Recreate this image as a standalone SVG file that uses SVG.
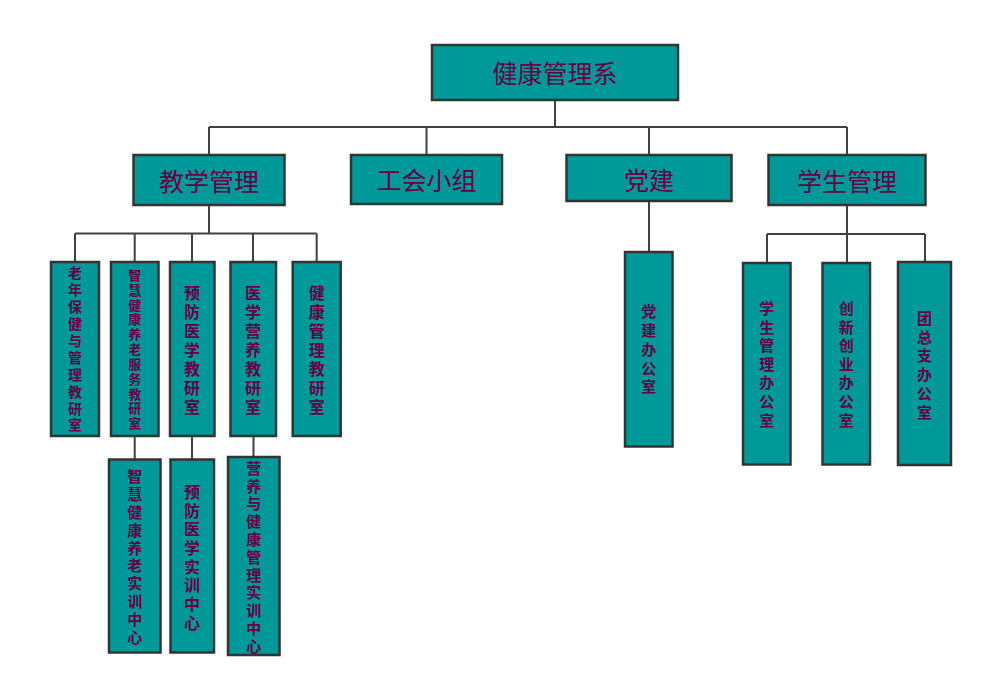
<svg xmlns="http://www.w3.org/2000/svg" width="986" height="685" viewBox="0 0 986 685">
<style>
.box{fill:#009999;stroke:#333333;stroke-width:2.5}
.h{font-family:"Noto Sans CJK SC","Noto Sans",sans-serif;font-size:25px;fill:#660044;text-anchor:middle}
.v{font-family:"Noto Sans CJK SC","Noto Sans",sans-serif;font-weight:bold;fill:#660044;text-anchor:middle}
.c{fill:none;stroke:#404040;stroke-width:2}
</style>
<rect width="986" height="685" fill="#ffffff"/>
<g id="connectors">
<path class="c" d="M555 100V127M209 127H847M209 127V155M426.5 127V155M649 127V155M847 127V155"/>
<path class="c" d="M209 205V233.5M75 233.5H316.7M75 233.5V262M134.7 233.5V262M192 233.5V262M253 233.5V262M316.7 233.5V262"/>
<path class="c" d="M134.7 436V459M192 436V459M253.5 436V457"/>
<path class="c" d="M649 201V252"/>
<path class="c" d="M847 205V234M767 234H925M767 234V263M847 234V263M925 234V262"/>
</g>
<g id="n-root"><rect class="box" x="432" y="45" width="246" height="55"/><text class="h" x="555" y="82.5">健康管理系</text></g>
<g id="n-jxgl"><rect class="box" x="133.5" y="155" width="151" height="50"/><text class="h" x="209" y="190.5">教学管理</text></g>
<g id="n-ghxz"><rect class="box" x="351" y="155" width="151" height="49"/><text class="h" x="426.5" y="189.5">工会小组</text></g>
<g id="n-dj"><rect class="box" x="566.5" y="155" width="165" height="46"/><text class="h" x="649" y="189.5">党建</text></g>
<g id="n-xsgl"><rect class="box" x="768.5" y="155" width="157" height="50"/><text class="h" x="847" y="190.5">学生管理</text></g>

<g id="n-lnbj"><rect class="box" x="51" y="262" width="48" height="174"/>
<text class="v" font-size="14"><tspan x="75" y="278.3">老</tspan><tspan x="75" dy="16.9">年</tspan><tspan x="75" dy="16.9">保</tspan><tspan x="75" dy="16.9">健</tspan><tspan x="75" dy="16.9">与</tspan><tspan x="75" dy="16.9">管</tspan><tspan x="75" dy="16.9">理</tspan><tspan x="75" dy="16.9">教</tspan><tspan x="75" dy="16.9">研</tspan><tspan x="75" dy="16.9">室</tspan></text></g>

<g id="n-zhjk"><rect class="box" x="111" y="262" width="47.5" height="174"/>
<text class="v" font-size="13"><tspan x="134.7" y="280">智</tspan><tspan x="134.7" dy="14.83">慧</tspan><tspan x="134.7" dy="14.83">健</tspan><tspan x="134.7" dy="14.83">康</tspan><tspan x="134.7" dy="14.83">养</tspan><tspan x="134.7" dy="14.83">老</tspan><tspan x="134.7" dy="14.83">服</tspan><tspan x="134.7" dy="14.83">务</tspan><tspan x="134.7" dy="14.83">教</tspan><tspan x="134.7" dy="14.83">研</tspan><tspan x="134.7" dy="14.83">室</tspan></text></g>

<g id="n-yfyx"><rect class="box" x="170" y="262" width="44.5" height="174"/>
<text class="v" font-size="16"><tspan x="192" y="299">预</tspan><tspan x="192" dy="19">防</tspan><tspan x="192" dy="19">医</tspan><tspan x="192" dy="19">学</tspan><tspan x="192" dy="19">教</tspan><tspan x="192" dy="19">研</tspan><tspan x="192" dy="19">室</tspan></text></g>

<g id="n-yxyy"><rect class="box" x="230.5" y="262" width="45.5" height="174"/>
<text class="v" font-size="16"><tspan x="253" y="298.8">医</tspan><tspan x="253" dy="19">学</tspan><tspan x="253" dy="19">营</tspan><tspan x="253" dy="19">养</tspan><tspan x="253" dy="19">教</tspan><tspan x="253" dy="19">研</tspan><tspan x="253" dy="19">室</tspan></text></g>

<g id="n-jkgl"><rect class="box" x="292.7" y="262" width="48" height="174"/>
<text class="v" font-size="16"><tspan x="316.7" y="299.3">健</tspan><tspan x="316.7" dy="19">康</tspan><tspan x="316.7" dy="19">管</tspan><tspan x="316.7" dy="19">理</tspan><tspan x="316.7" dy="19">教</tspan><tspan x="316.7" dy="19">研</tspan><tspan x="316.7" dy="19">室</tspan></text></g>

<g id="n-zhsx"><rect class="box" x="109" y="459.5" width="51.5" height="193"/>
<text class="v" font-size="15"><tspan x="134.7" y="482.4">智</tspan><tspan x="134.7" dy="17.8">慧</tspan><tspan x="134.7" dy="17.8">健</tspan><tspan x="134.7" dy="17.8">康</tspan><tspan x="134.7" dy="17.8">养</tspan><tspan x="134.7" dy="17.8">老</tspan><tspan x="134.7" dy="17.8">实</tspan><tspan x="134.7" dy="17.8">训</tspan><tspan x="134.7" dy="17.8">中</tspan><tspan x="134.7" dy="17.8">心</tspan></text></g>

<g id="n-yfsx"><rect class="box" x="170.5" y="459.5" width="43.5" height="193"/>
<text class="v" font-size="16"><tspan x="192" y="497.8">预</tspan><tspan x="192" dy="18.7">防</tspan><tspan x="192" dy="18.7">医</tspan><tspan x="192" dy="18.7">学</tspan><tspan x="192" dy="18.7">实</tspan><tspan x="192" dy="18.7">训</tspan><tspan x="192" dy="18.7">中</tspan><tspan x="192" dy="18.7">心</tspan></text></g>

<g id="n-yysx"><rect class="box" x="228" y="457" width="51.5" height="198"/>
<text class="v" font-size="15"><tspan x="253.8" y="473.7">营</tspan><tspan x="253.8" dy="17.8">养</tspan><tspan x="253.8" dy="17.8">与</tspan><tspan x="253.8" dy="17.8">健</tspan><tspan x="253.8" dy="17.8">康</tspan><tspan x="253.8" dy="17.8">管</tspan><tspan x="253.8" dy="17.8">理</tspan><tspan x="253.8" dy="17.8">实</tspan><tspan x="253.8" dy="17.8">训</tspan><tspan x="253.8" dy="17.8">中</tspan><tspan x="253.8" dy="17.8">心</tspan></text></g>

<g id="n-djbgs"><rect class="box" x="625" y="252" width="47.5" height="194.5"/>
<text class="v" font-size="15"><tspan x="648.7" y="317.4">党</tspan><tspan x="648.7" dy="18.75">建</tspan><tspan x="648.7" dy="18.75">办</tspan><tspan x="648.7" dy="18.75">公</tspan><tspan x="648.7" dy="18.75">室</tspan></text></g>

<g id="n-xsglbgs"><rect class="box" x="743" y="263" width="47.5" height="201.5"/>
<text class="v" font-size="15"><tspan x="766.7" y="314">学</tspan><tspan x="766.7" dy="18.6">生</tspan><tspan x="766.7" dy="18.6">管</tspan><tspan x="766.7" dy="18.6">理</tspan><tspan x="766.7" dy="18.6">办</tspan><tspan x="766.7" dy="18.6">公</tspan><tspan x="766.7" dy="18.6">室</tspan></text></g>

<g id="n-cxcy"><rect class="box" x="822.5" y="263" width="47.5" height="201.5"/>
<text class="v" font-size="15"><tspan x="846.3" y="314">创</tspan><tspan x="846.3" dy="18.6">新</tspan><tspan x="846.3" dy="18.6">创</tspan><tspan x="846.3" dy="18.6">业</tspan><tspan x="846.3" dy="18.6">办</tspan><tspan x="846.3" dy="18.6">公</tspan><tspan x="846.3" dy="18.6">室</tspan></text></g>

<g id="n-tzz"><rect class="box" x="898" y="262" width="53" height="203"/>
<text class="v" font-size="15"><tspan x="924.5" y="324">团</tspan><tspan x="924.5" dy="18.7">总</tspan><tspan x="924.5" dy="18.7">支</tspan><tspan x="924.5" dy="18.7">办</tspan><tspan x="924.5" dy="18.7">公</tspan><tspan x="924.5" dy="18.7">室</tspan></text></g>
</svg>
